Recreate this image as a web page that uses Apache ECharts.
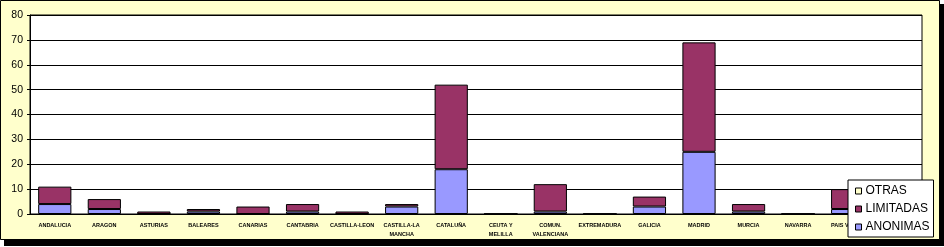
<!DOCTYPE html>
<html><head><meta charset="utf-8">
<script src="https://cdn.jsdelivr.net/npm/echarts@6/dist/echarts.min.js"></script>
<style>html,body{margin:0;padding:0;background:#fff;}#c{width:944px;height:247px;}</style>
</head><body><div id="c"></div>
<script>
const categories = ['ANDALUCIA','ARAGON','ASTURIAS','BALEARES','CANARIAS','CANTABRIA','CASTILLA-LEON','CASTILLA-LA\nMANCHA','CATALUÑA','CEUTA Y\nMELILLA','COMUN.\nVALENCIANA','EXTREMADURA','GALICIA','MADRID','MURCIA','NAVARRA','PAIS VASCO','RIOJA'];
const anonimas  = [4,2,0,1,0,1,0,3,18,0,1,0,3,25,1,0,2,0];
const limitadas = [7,4,1,1,3,3,1,1,34,0,11,0,4,44,3,0,8,0];
const otras     = [0,0,0,0,0,0,0,0,0,0,0,0,0,0,0,0,0,0];
const yTicks = {min:0, max:80, interval:10};

const chart = echarts.init(document.getElementById('c'), null, {renderer:'canvas'});
const bw = {borderColor:'#000', borderWidth:1};
chart.setOption({
  animation:false,
  backgroundColor:'#ffffff',
  graphic:[
    {type:'rect', shape:{x:4,y:4,width:940,height:242}, style:{fill:'#000'}, z:-10, silent:true},
    {type:'rect', shape:{x:0.5,y:0.5,width:939,height:239}, style:{fill:'#FFFFCC', stroke:'#000', lineWidth:1}, z:-9, silent:true}
  ],
  grid:{left:30, right:22, top:15, bottom:33, show:true, backgroundColor:'#ffffff', borderColor:'#000', borderWidth:1, containLabel:false},
  legend:{
    orient:'vertical', left:848, top:180, width:72, height:60,
    backgroundColor:'#ffffff', borderColor:'#000', borderWidth:1,
    padding:[5,4,4,7], itemGap:6, itemWidth:6, itemHeight:6, icon:'rect',
    textStyle:{fontFamily:'"Liberation Sans Narrow","Liberation Sans",Arial', fontSize:12, color:'#000', padding:[0,0,0,-1]},
    data:[
      {name:'OTRAS', itemStyle:{color:'#FFFFCC', borderColor:'#000', borderWidth:1}},
      {name:'LIMITADAS', itemStyle:{color:'#993366', borderColor:'#000', borderWidth:1}},
      {name:'ANONIMAS', itemStyle:{color:'#9999FF', borderColor:'#000', borderWidth:1}}
    ],
    z:10
  },
  xAxis:{type:'category', data:categories,
    axisLine:{lineStyle:{color:'#000', width:1}}, axisTick:{show:false},
    axisLabel:{interval:0, margin:7, fontSize:5.5, fontWeight:'bold', fontFamily:'"Liberation Sans",Arial', color:'#000', lineHeight:9}},
  yAxis:{type:'value', min:yTicks.min, max:yTicks.max, interval:yTicks.interval,
    axisLine:{show:true, lineStyle:{color:'#000'}}, axisTick:{show:true, length:3, lineStyle:{color:'#000'}},
    axisLabel:{margin:7, fontSize:10.5, fontFamily:'"Liberation Sans",Arial', color:'#000'},
    splitLine:{lineStyle:{color:'#000', width:1}}},
  series:[
    {name:'ANONIMAS', type:'bar', stack:'t', data:anonimas, barCategoryGap:'33%', itemStyle:Object.assign({color:'#9999FF'}, bw)},
    {name:'LIMITADAS', type:'bar', stack:'t', data:limitadas, itemStyle:Object.assign({color:'#993366'}, bw)},
    {name:'OTRAS', type:'bar', stack:'t', data:otras, itemStyle:{color:'#FFFFCC', borderWidth:0}}
  ]
});
</script></body></html>
